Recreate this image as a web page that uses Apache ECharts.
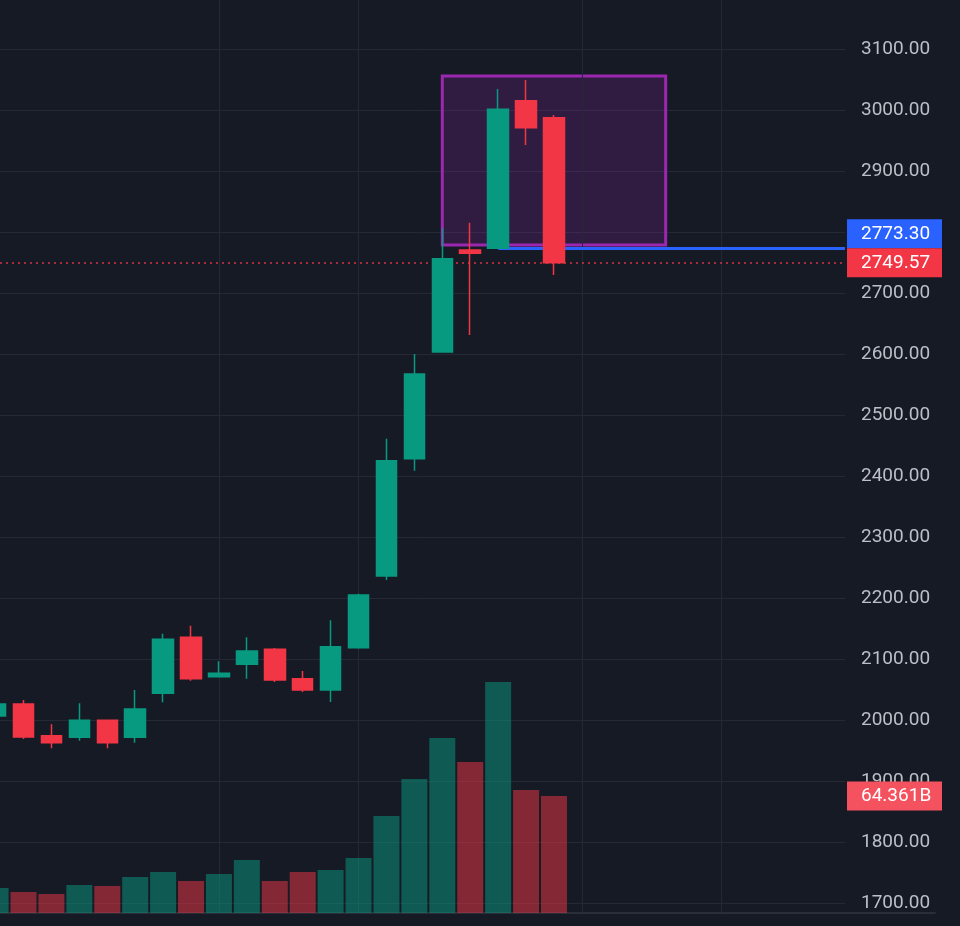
<!DOCTYPE html>
<html>
<head>
<meta charset="utf-8">
<script src="https://cdn.jsdelivr.net/npm/echarts@6/dist/echarts.min.js"></script>
<style>
html,body{margin:0;padding:0;background:#161a25;}
#c{width:960px;height:926px;}
</style>
</head>
<body>
<div id="c"></div>
<script>
// ---- data ----
const barIndex = [0,1,2,3,4,5,6,7,8,9,10,11,12,13,14,15,16,17,18,19,20];
const opens  = [2006.6,2026.2,1974.3,1971.6,1999.5,1971.6,2043.8,2135.6,2071.0,2091.3,2115.9,2067.7,2049.2,2118.5,2236.1,2428.4,2603.3,2770.5,2773.3,3015.2,2987.4];
const closes = [2026.2,1972.1,1962.8,1999.5,1962.8,2018.0,2132.3,2067.7,2076.6,2113.1,2065.6,2049.2,2120.2,2204.9,2425.1,2567.2,2756.2,2765.1,3001.1,2971.0,2749.57];
const lows   = [2003.0,1968.9,1953.6,1966.0,1953.6,1962.8,2029.0,2064.4,2070.0,2067.7,2062.3,2045.9,2029.5,2117.0,2229.5,2408.7,2602.0,2631.1,2772.0,2942.6,2729.5];
const highs  = [2030.0,2032.8,1993.0,2027.4,2000.5,2049.2,2141.5,2154.6,2096.2,2135.6,2118.0,2080.3,2163.4,2207.0,2461.1,2600.0,2806.1,2815.2,3034.4,3049.2,2991.8];
const volumes = [13.75,11.55,10.45,15.4,14.85,19.8,22.55,17.6,21.45,29.15,17.6,22.55,23.65,30.25,53.36,73.7,96.3,83.1,127.1,67.7,64.361]; // billions

const verticalGridAt = [8, 13, 21, 26];
const boxIndexRange = [16, 24];
const boxPriceRange = [2778.7, 3055.7];
const levelStartIndex = 18;
const levelPrice = 2773.30;
const lastPrice = 2749.57;

const priceMin = 1600, priceMax = 3200, priceStep = 100;
const paneFloorPrice = 1684;
const volMax = 140;

// ---- style / layout ----
const BG = '#161a25';
const GRID = '#252936';
const UP = '#089981';
const DOWN = '#f23645';
const UP_VOL = 'rgba(8,153,129,0.5)';
const DOWN_VOL = 'rgba(242,54,69,0.5)';
const FONT = 'Roboto';

const xMin = 0.158;
const slotPx = 27.92;
const pane1W = 845, pane2W = 935;
const xMax1 = xMin + pane1W / slotPx;
const xMax2 = xMin + pane2W / slotPx;

const candleData = barIndex.map((x, i) => [x, opens[i], closes[i], lows[i], highs[i]]);
const volData = barIndex.map((x, i) => ({
  value: [x, volumes[i]],
  itemStyle: { color: closes[i] >= opens[i] ? UP_VOL : DOWN_VOL }
}));

const chart = echarts.init(document.getElementById('c'), null, { renderer: 'canvas' });

const option = {
  backgroundColor: BG,
  animation: false,
  grid: [
    { left: 0, top: -12, width: pane1W, height: 976, outerBoundsMode: 'none', containLabel: false },
    { left: 0, bottom: 13, width: pane2W, height: volMax / 0.5501, outerBoundsMode: 'none', containLabel: false }
  ],
  xAxis: [
    { type: 'value', gridIndex: 0, min: xMin, max: xMax1, show: false, splitLine: { show: false } },
    { type: 'value', gridIndex: 1, min: xMin, max: xMax2,
      axisLine: { show: true, lineStyle: { color: '#2a2e39', width: 2 } },
      axisTick: { show: false }, axisLabel: { show: false }, splitLine: { show: false } }
  ],
  yAxis: [
    { type: 'value', gridIndex: 0, position: 'right', min: priceMin, max: priceMax, interval: priceStep,
      axisLine: { show: false }, axisTick: { show: false },
      axisLabel: { color: '#bcbfc7', fontSize: 19, fontFamily: FONT, margin: 16, align: 'left',
        formatter: v => v.toFixed(2) },
      splitLine: { show: true, lineStyle: { color: GRID, width: 1 } } },
    { type: 'value', gridIndex: 1, min: 0, max: volMax, show: false, splitLine: { show: false } }
  ],
  series: [
    {
      name: 'Volume', type: 'bar', xAxisIndex: 1, yAxisIndex: 1,
      barWidth: 26, data: volData, z: 1, silent: true
    },
    {
      name: 'annotations', type: 'line', xAxisIndex: 0, yAxisIndex: 0, data: [], z: 1, silent: true,
      markArea: {
        z: 1, silent: true,
        itemStyle: { color: 'rgba(156,39,176,0.2)', borderColor: '#9c27b0', borderWidth: 3 },
        label: { show: false },
        data: [[
          { coord: [boxIndexRange[0], boxPriceRange[1]] },
          { coord: [boxIndexRange[1], boxPriceRange[0]] }
        ]]
      },
      markLine: {
        z: 1, silent: true, symbol: ['none', 'none'], label: { show: false },
        data: [
          ...verticalGridAt.map(x => [
            { coord: [x, paneFloorPrice], lineStyle: { color: GRID, width: 1, type: 'solid' } },
            { coord: [x, priceMax] }
          ]),
          [
            { coord: [xMin, lastPrice], lineStyle: { color: '#d8323f', width: 1.6, type: [2, 4] } },
            { coord: [xMax1, lastPrice] }
          ],
          [
            { coord: [levelStartIndex, levelPrice], lineStyle: { color: '#2962ff', width: 3, type: 'solid' } },
            { coord: [xMax1, levelPrice] }
          ]
        ]
      }
    },
    {
      name: 'Price', type: 'candlestick', xAxisIndex: 0, yAxisIndex: 0, z: 2,
      barWidth: 21,
      data: candleData,
      itemStyle: { color: UP, color0: DOWN, borderColor: UP, borderColor0: DOWN, borderWidth: 1.5 }
    }
  ]
};

chart.setOption(option);

// price / volume tags on the right scale, positioned via the library's scales
const boxH = 29;
const redY = chart.convertToPixel({ yAxisIndex: 0 }, lastPrice);
let blueY = chart.convertToPixel({ yAxisIndex: 0 }, levelPrice);
if (redY - blueY < boxH) blueY = redY - boxH;
const volY = chart.convertToPixel({ yAxisIndex: 1 }, volumes[volumes.length - 1]);

function tag(cy, fill, text) {
  return [
    { type: 'rect', shape: { x: 847, y: cy - boxH / 2, width: 95, height: boxH }, style: { fill }, z: 10, silent: true },
    { type: 'text', x: 861, y: cy, z: 11, silent: true,
      style: { text, fill: '#ffffff', fontSize: 19, fontFamily: FONT, align: 'left', verticalAlign: 'middle' } }
  ];
}

chart.setOption({
  graphic: [
    ...tag(blueY, '#2962ff', levelPrice.toFixed(2)),
    ...tag(redY, DOWN, lastPrice.toFixed(2)),
    ...tag(volY, '#f5525f', volumes[volumes.length - 1].toFixed(3) + 'B')
  ]
});
</script>
</body>
</html>
